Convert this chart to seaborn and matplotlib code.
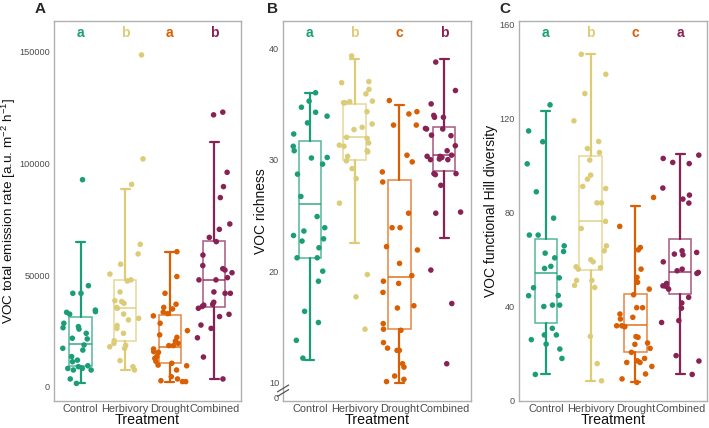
import numpy as np
import pandas as pd
import matplotlib
matplotlib.use('Agg')
import matplotlib.pyplot as plt
import seaborn as sns

treatments = ['Control', 'Herbivory', 'Drought', 'Combined']
colors = ['#1B9E77', '#DDCC77', '#D95F02', '#882255']

# panel A - total emission rate
emission_control = [92700, 45300, 41900, 41900, 34400, 33700, 33400, 32600, 28500, 27000,
                    26500, 25900, 24000, 21800, 21500, 18800, 17300, 16500, 13600, 12000,
                    11300, 9500, 9100, 8300, 8300, 7600, 7600, 3600, 1600]
emission_herbivory = [148500, 102000, 90600, 63800, 59500, 54900, 50500, 47900, 47400, 42500,
                      38600, 38200, 37400, 35600, 35200, 32600, 30700, 30000, 27500, 26200,
                      24000, 20700, 19500, 18600, 18000, 17300, 11800, 9100, 7600]
emission_drought = [60500, 49400, 41900, 37000, 35600, 34900, 33500, 32800, 31800, 28500,
                    25200, 23300, 22200, 20500, 19500, 18500, 18500, 17000, 15800, 15500,
                    13600, 12800, 11500, 10600, 9800, 9500, 7600, 4600, 3600, 2800, 2400, 2400]
emission_combined = [122900, 121700, 96000, 89600, 84700, 72900, 70500, 66900, 65000, 59000,
                     54300, 52900, 52300, 51100, 48900, 47900, 47900, 42500, 41900, 41900,
                     37900, 37000, 36600, 36000, 35200, 32500, 31500, 27700, 26200, 22000,
                     13400, 3600]
emission_q1 = [9500, 20600, 10900, 35900]
emission_med = [19100, 35200, 17900, 47900]
emission_q3 = [31400, 47700, 32200, 65400]
emission_lo = [1600, 7600, 2400, 3600]
emission_hi = [64700, 88500, 60500, 109700]
emission_letters = ['a', 'b', 'a', 'b']

# panel B - richness
richness_control = [36.0, 35.25, 34.7, 34.25, 33.9, 33.3, 32.3, 31.2, 30.8, 30.2, 30.15, 29.6,
                    28.7, 26.7, 24.9, 23.9, 23.6, 23.2, 22.9, 22.7, 22.1, 21.2, 21.2, 20.0,
                    19.1, 16.4, 15.4, 13.8, 12.2]
richness_herbivory = [39.3, 37.0, 36.9, 36.3, 35.9, 35.25, 35.2, 35.1, 35.1, 34.3, 33.2, 32.9,
                      32.7, 32.0, 31.9, 31.5, 31.3, 31.2, 30.8, 30.7, 30.3, 29.9, 29.2, 28.3,
                      26.1, 19.7, 17.7, 14.8]
richness_drought = [35.3, 34.3, 34.1, 33.1, 33.1, 30.4, 29.8, 28.9, 28.0, 25.2, 23.9, 23.9,
                    22.2, 21.9, 20.7, 19.6, 19.1, 18.9, 18.1, 16.9, 16.7, 15.3, 14.8, 14.7,
                    13.6, 13.1, 12.9, 12.9, 11.7, 11.4, 10.6, 10.3, 10.1]
richness_combined = [38.75, 36.2, 35.0, 33.97, 33.8, 33.8, 32.8, 32.75, 32.75, 32.2, 32.15,
                     31.25, 30.8, 30.4, 30.3, 30.3, 30.2, 30.06, 30.0, 30.0, 28.75, 28.75,
                     28.66, 27.7, 25.3, 25.2, 20.1, 17.1, 11.7]
richness_q1 = [21.2, 30.0, 14.8, 29.0]
richness_med = [26.0, 32.0, 19.5, 30.45]
richness_q3 = [31.7, 35.0, 28.2, 32.9]
richness_lo = [12.0, 22.5, 10.0, 23.0]
richness_hi = [36.0, 39.0, 34.9, 39.0]
richness_letters = ['a', 'b', 'c', 'b']

# panel C - functional Hill diversity
hill_control = [126, 114.9, 110.3, 100.9, 89.0, 77.8, 70.6, 70.6, 66.0, 63.6, 62.9, 60.9,
                57.3, 56.4, 52.4, 48.2, 44.9, 44.8, 40.8, 40.8, 40.2, 30.9, 28.1, 28.1,
                26.1, 24.2, 22.1, 18.1, 11.3]
hill_herbivory = [147.5, 139.0, 130.8, 119.2, 110.4, 107.4, 105.7, 102.5, 96.1, 94.4, 91.3,
                  90.4, 84.3, 84.3, 76.4, 73.4, 66.0, 63.9, 60.1, 59.2, 57.1, 56.7, 56.1,
                  51.3, 51.3, 49.2, 48.3, 27.5, 15.9, 8.6]
hill_drought = [86.6, 74.3, 65.3, 64.3, 56.1, 52.6, 50.5, 47.6, 45.2, 39.7, 39.7, 37.0, 35.6,
                34.9, 32.0, 32.0, 31.7, 31.6, 27.4, 27.1, 24.7, 24.1, 22.4, 20.7, 18.1, 17.1,
                16.4, 16.4, 14.7, 11.5, 9.4, 7.9]
hill_combined = [104.6, 103.2, 101.5, 101.0, 90.6, 87.6, 85.9, 84.2, 63.9, 63.2, 62.5, 62.2,
                 59.2, 56.1, 55.4, 54.7, 54.3, 50.0, 49.0, 48.8, 47.6, 44.1, 41.7, 39.5,
                 34.2, 33.4, 19.3, 17.0, 11.3]
hill_q1 = [33.2, 55.8, 21.0, 45.5]
hill_med = [54.6, 76.5, 32.3, 54.7]
hill_q3 = [68.9, 104.2, 45.5, 68.9]
hill_lo = [11.5, 8.6, 7.9, 11.5]
hill_hi = [123.3, 147.5, 83.0, 105.0]
hill_letters = ['a', 'b', 'c', 'a']


def long_frame(groups):
    rows = []
    for name, vals in zip(treatments, groups):
        for v in vals:
            rows.append({'Treatment': name, 'value': v})
    return pd.DataFrame(rows)


def draw_panel(ax, groups, q1, med, q3, lo, hi, letters, ylabel):
    df = long_frame(groups)
    stats = [dict(q1=a, med=m, q3=b, whislo=l, whishi=h, fliers=[])
             for a, m, b, l, h in zip(q1, med, q3, lo, hi)]
    parts = ax.bxp(stats, positions=range(4), widths=0.5, capwidths=0.2,
                   patch_artist=True, showfliers=False, manage_ticks=False, zorder=1.5)
    for i, c in enumerate(colors):
        parts['boxes'][i].set(facecolor='white', edgecolor=c, alpha=0.75, linewidth=1.1)
        parts['medians'][i].set(color=c, alpha=0.75, linewidth=1.3)
        for ln in parts['whiskers'][2 * i:2 * i + 2] + parts['caps'][2 * i:2 * i + 2]:
            ln.set(color=c, linewidth=1.6)

    sns.stripplot(data=df, x='Treatment', y='value', hue='Treatment', order=treatments,
                  palette=colors, jitter=0.42, size=4.0, linewidth=0, legend=False,
                  zorder=3, ax=ax)

    for i, (lab, c) in enumerate(zip(letters, colors)):
        ax.text(i, 0.968, lab, color=c, fontsize=10, fontweight='bold', ha='center',
                va='center', transform=ax.get_xaxis_transform())

    ax.set_xlim(-0.6, 3.6)
    ax.set_xticks(range(4))
    ax.set_xticklabels(treatments)
    ax.set_xlabel('Treatment', fontsize=10.3, color='#111111', labelpad=-1)
    ax.set_ylabel(ylabel, fontsize=10, color='#111111', labelpad=1)
    ax.tick_params(axis='both', colors='#555555', labelcolor='#4d4d4d', length=2,
                   width=0.8, pad=0.8)
    ax.tick_params(axis='x', labelsize=7.9, pad=0.3)
    ax.tick_params(axis='y', labelsize=6.6)
    for sp in ax.spines.values():
        sp.set_color('#b0b0b0')
        sp.set_linewidth(1.0)
        sp.set_visible(True)


if __name__ == '__main__':
    sns.set_style('white')
    plt.rcParams['font.family'] = ['Liberation Sans', 'DejaVu Sans']
    plt.rcParams['mathtext.default'] = 'regular'
    np.random.seed(3)

    fig = plt.figure(figsize=(7.09, 4.28), dpi=100)
    ax_a = fig.add_axes([0.0760, 0.0631, 0.2640, 0.888])
    ax_b = fig.add_axes([0.3992, 0.0631, 0.2652, 0.888])
    ax_c = fig.add_axes([0.7320, 0.0631, 0.2652, 0.888])

    draw_panel(ax_a, [emission_control, emission_herbivory, emission_drought, emission_combined],
               emission_q1, emission_med, emission_q3, emission_lo, emission_hi,
               emission_letters, r'VOC total emission rate [a.u. m$^{-2}$ h$^{-1}$]')
    ax_a.set_ylim(-6260, 163700)
    ax_a.set_yticks([0, 50000, 100000, 150000])
    ax_a.set_yticklabels(['0', '50000', '100000', '150000'])
    ax_a.yaxis.label.set_fontsize(9.7)
    ax_a.yaxis.set_label_coords(-0.19, 0.5)

    draw_panel(ax_b, [richness_control, richness_herbivory, richness_drought, richness_combined],
               richness_q1, richness_med, richness_q3, richness_lo, richness_hi,
               richness_letters, 'VOC richness')
    ax_b.set_ylim(8.36, 42.44)
    ax_b.set_yticks([8.63, 10, 20, 30, 40])
    ax_b.set_yticklabels(['0', '10', '20', '30', '40'])
    # axis break mark
    for dy in (0.0, 0.012):
        ax_b.plot([-0.03, 0.03], [0.012 + dy, 0.03 + dy], color='#555555', lw=0.9,
                  transform=ax_b.transAxes, clip_on=False, zorder=5)

    draw_panel(ax_c, [hill_control, hill_herbivory, hill_drought, hill_combined],
               hill_q1, hill_med, hill_q3, hill_lo, hill_hi,
               hill_letters, 'VOC functional Hill diversity')
    ax_c.set_ylim(0, 161.7)
    ax_c.set_yticks([0, 40, 80, 120, 160])

    fig.text(0.056, 0.98, 'A', fontsize=11, fontweight='bold', ha='center', va='center')
    fig.text(0.384, 0.98, 'B', fontsize=11, fontweight='bold', ha='center', va='center')
    fig.text(0.712, 0.98, 'C', fontsize=11, fontweight='bold', ha='center', va='center')

    fig.savefig('out.png', dpi=100)
